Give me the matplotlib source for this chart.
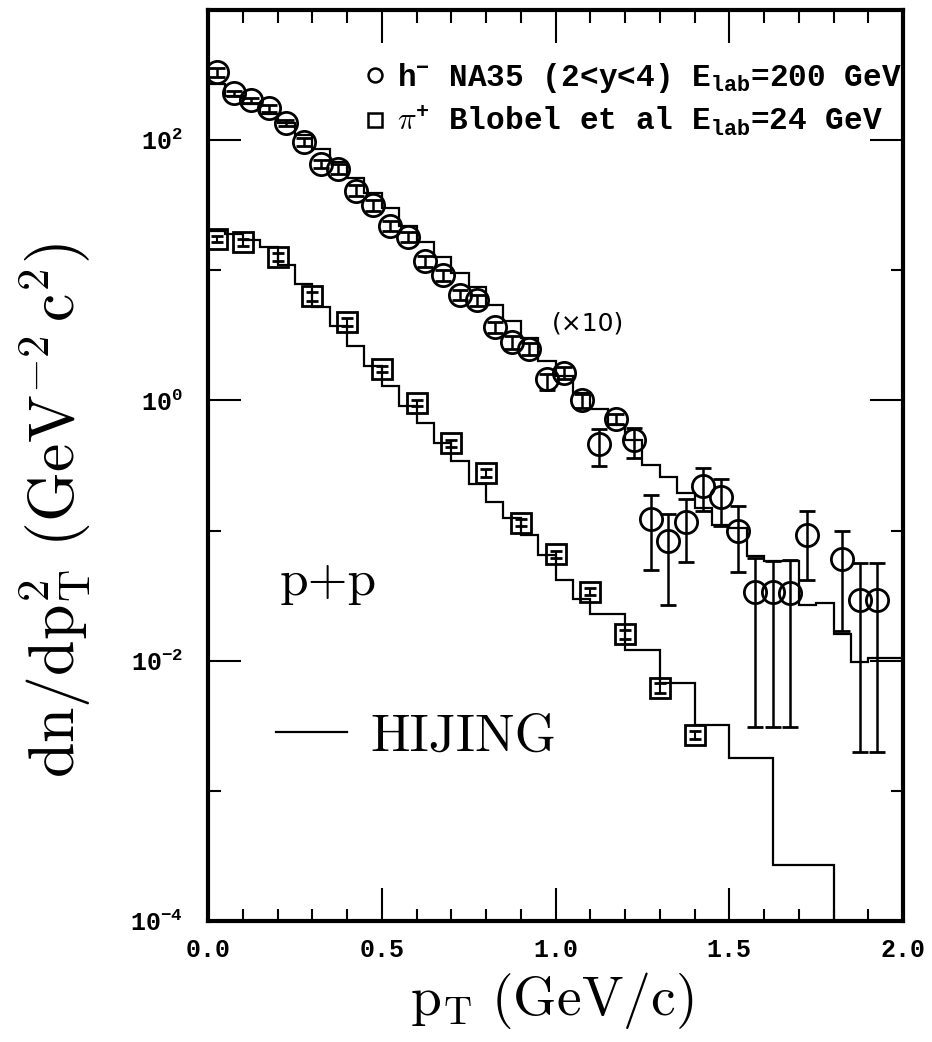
import numpy as np
import matplotlib
matplotlib.use('Agg')
import matplotlib.pyplot as plt
from matplotlib.lines import Line2D
from matplotlib.ticker import FixedLocator, FuncFormatter, MultipleLocator, NullFormatter

# NA35 h- (x10), 2<y<4, Elab=200 GeV
circ_x = [0.025, 0.075, 0.125, 0.175, 0.225, 0.275, 0.325, 0.375, 0.425, 0.475,
          0.525, 0.575, 0.625, 0.675, 0.725, 0.775, 0.825, 0.875, 0.925, 0.975,
          1.025, 1.075, 1.125, 1.175, 1.225, 1.275, 1.325, 1.375, 1.425, 1.475,
          1.525, 1.575, 1.625, 1.675, 1.725, 1.825, 1.875, 1.925]
circ_y = [333, 229, 202, 176, 136, 97, 66, 60, 41, 31.6,
          22, 18, 11.7, 9.2, 6.5, 5.9, 3.67, 2.8, 2.5, 1.45,
          1.62, 1.0, 0.46, 0.72, 0.50, 0.123, 0.083, 0.117, 0.22, 0.18,
          0.1, 0.034, 0.034, 0.033, 0.092, 0.06, 0.0295, 0.0295]
circ_hi = [360, 240, 212, 186, 144, 104, 71, 65, 45, 34.5,
           24, 19.6, 12.8, 10.1, 7.1, 6.5, 4.0, 3.1, 2.75, 1.6,
           1.8, 1.12, 0.60, 0.78, 0.61, 0.189, 0.134, 0.174, 0.30, 0.25,
           0.154, 0.062, 0.058, 0.059, 0.141, 0.10, 0.056, 0.056]
circ_lo = [306, 218, 192, 166, 128, 90, 61, 55, 37, 28.7,
           20, 16.4, 10.6, 8.3, 5.9, 5.3, 3.3, 2.5, 2.25, 1.2,
           1.45, 0.88, 0.316, 0.66, 0.36, 0.050, 0.027, 0.057, 0.141, 0.109,
           0.048, 0.0031, 0.0031, 0.0031, 0.042, 0.017, 0.002, 0.002]

# pi+ Blobel et al, Elab=24 GeV
sq_x = [0.025, 0.1, 0.2, 0.3, 0.4, 0.5, 0.6, 0.7, 0.8, 0.9, 1.0, 1.1, 1.2, 1.3, 1.4]
sq_y = [17.3, 16.5, 12.7, 6.3, 4.0, 1.75, 0.95, 0.47, 0.277, 0.115,
        0.066, 0.034, 0.016, 0.0062, 0.0027]
sq_hi = [18.2, 17.5, 13.6, 6.8, 4.3, 1.85, 1.0, 0.5, 0.295, 0.122,
         0.07, 0.036, 0.0172, 0.0067, 0.0029]
sq_lo = [16.4, 15.5, 11.8, 5.8, 3.7, 1.65, 0.9, 0.44, 0.26, 0.108,
         0.062, 0.032, 0.0148, 0.0057, 0.0025]

# HIJING histograms
hij_up_edges = list(np.round(np.arange(0, 1.801, 0.05), 2)) + [1.85, 1.9, 2.0]
hij_up = [270, 220, 190, 160, 135, 110, 86, 68, 51, 39,
          30, 22, 16.5, 12.7, 9.5, 7.4, 5.4, 4.1, 3.0, 2.0,
          1.55, 1.15, 0.86, 0.65, 0.5, 0.32, 0.26, 0.195, 0.15, 0.11,
          0.105, 0.064, 0.058, 0.058, 0.027, 0.028, 0.016, 0.0098, 0.0105]
hij_lo_edges = list(np.round(np.arange(0, 1.101, 0.05), 2)) + [1.2, 1.3, 1.4, 1.5, 1.625, 1.8, 2.0]
hij_lo = [20, 19, 17, 15, 11, 7.8, 5.2, 3.7, 2.6, 1.85,
          1.3, 0.91, 0.67, 0.47, 0.34, 0.23, 0.165, 0.125, 0.092, 0.065,
          0.042, 0.03, 0.023, 0.012, 0.0067, 0.0032, 0.0018, 0.00027, 1e-6]

plt.rcParams['font.family'] = ['Liberation Mono', 'DejaVu Sans']
plt.rcParams['font.weight'] = 'bold'
plt.rcParams['mathtext.fontset'] = 'cm'
plt.rcParams['mathtext.default'] = 'regular'

fig = plt.figure(figsize=(9.32, 10.42), dpi=100)
ax = fig.add_axes([0.2232, 0.1161, 0.7457, 0.8743])

ax.stairs(hij_up, hij_up_edges, baseline=None, color='k', lw=1.6)
ax.stairs(hij_lo, hij_lo_edges, baseline=None, color='k', lw=1.6)

cy = np.array(circ_y)
ax.errorbar(circ_x, circ_y, yerr=[cy - np.array(circ_lo), np.array(circ_hi) - cy],
            fmt='o', ms=16, mfc='none', mec='k', mew=2, ecolor='k',
            elinewidth=1.8, capsize=6, capthick=1.8, zorder=3)
sy = np.array(sq_y)
ax.errorbar(sq_x, sq_y, yerr=[sy - np.array(sq_lo), np.array(sq_hi) - sy],
            fmt='s', ms=15, mfc='none', mec='k', mew=2, ecolor='k',
            elinewidth=1.5, capsize=4, capthick=1.5, zorder=3)

ax.set_yscale('log')
ax.set_xlim(0, 2.0)
ax.set_ylim(1e-4, 1e3)

ax.xaxis.set_major_locator(MultipleLocator(0.5))
ax.xaxis.set_minor_locator(MultipleLocator(0.1))
ax.xaxis.set_major_formatter(FuncFormatter(lambda v, p: '%.1f' % v))
ax.yaxis.set_major_locator(FixedLocator([1e-4, 1e-2, 1e0, 1e2]))
ax.yaxis.set_minor_locator(FixedLocator([1e-3, 1e-1, 1e1]))
ax.yaxis.set_major_formatter(FuncFormatter(lambda v, p: '10$^{%d}$' % round(np.log10(v))))
ax.yaxis.set_minor_formatter(NullFormatter())

ax.tick_params(which='both', direction='in', top=True, right=True, width=1.5, labelsize=18)
ax.tick_params(which='major', length=24)
ax.tick_params(which='minor', length=9)
ax.tick_params(axis='x', pad=12)
ax.tick_params(axis='y', pad=18)
for s in ax.spines.values():
    s.set_linewidth(3)

handles = [Line2D([], [], marker='o', ls='none', mfc='none', mec='k', ms=10, mew=1.8),
           Line2D([], [], marker='s', ls='none', mfc='none', mec='k', ms=10, mew=1.8)]
labels = ['h$^{-}$ NA35 (2<y<4) E$_{lab}$=200 GeV',
          r'$\mathit{\pi}^{+}$ Blobel et al E$_{lab}$=24 GeV']
leg = ax.legend(handles, labels, loc='upper right', bbox_to_anchor=(1.016, 0.958),
                frameon=False, fontsize=22.4, handletextpad=0.25, labelspacing=0.3,
                borderaxespad=0, handlelength=0.9)
ax.add_artist(leg)

hij_leg = ax.legend([Line2D([], [], color='k', lw=1.6)], ['HIJING'], loc='center left',
                    bbox_to_anchor=(0.067, 0.202), frameon=False, handlelength=1.35,
                    handletextpad=0.45, borderaxespad=0,
                    prop={'family': 'cmr10', 'size': 38, 'weight': 'normal'})

ax.text(0.173, 0.372, 'p+p', transform=ax.transAxes, ha='center', va='center',
        family='cmr10', weight='normal', fontsize=37)
ax.text(0.547, 0.656, '(\u00d710)', transform=ax.transAxes, ha='center', va='center',
        family='DejaVu Sans', weight='normal', fontsize=18)

fig.text(0.059, 0.51, r'$\mathrm{dn/dp_T^2\ (GeV^{-2}\,c^2)}$', rotation=90,
         ha='center', va='center', fontsize=46)
fig.text(0.592, 0.04, r'$\mathrm{p_T\ (GeV/c)}$', ha='center', va='center', fontsize=40)

fig.savefig('out.png', dpi=100)
